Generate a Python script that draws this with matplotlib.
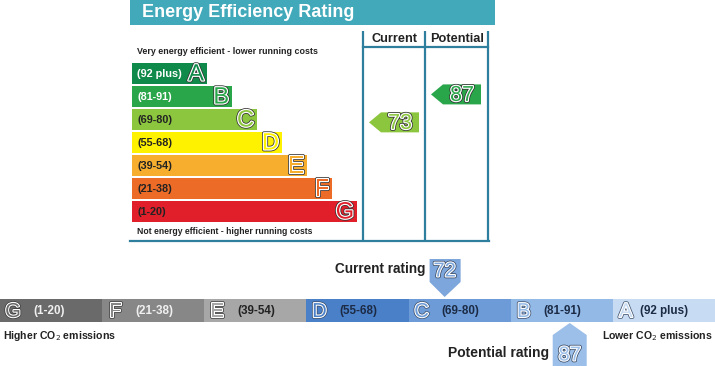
"""EPC energy efficiency and CO2 emissions rating graphic."""

import matplotlib

matplotlib.use("Agg")
import matplotlib.patheffects as pe
import matplotlib.pyplot as plt
from matplotlib.patches import Polygon, Rectangle

plt.rcParams["font.family"] = ["Liberation Sans", "DejaVu Sans"]

# data
bands = ["A", "B", "C", "D", "E", "F", "G"]
band_ranges = ["(92 plus)", "(81-91)", "(69-80)", "(55-68)", "(39-54)", "(21-38)", "(1-20)"]
band_low = [92, 81, 69, 55, 39, 21, 1]
band_high = [100, 91, 80, 68, 54, 38, 20]
eer_current = 73
eer_potential = 87
co2_current = 72
co2_potential = 87

eer_colors = ["#108a4a", "#2aa64a", "#8cc63e", "#fff200", "#f7ae2f", "#ec6c27", "#e01f2b"]
co2_colors = ["#c7dcf3", "#93b9e7", "#6c9bd7", "#4a80c8", "#a7a7a7", "#878787", "#6a6a6a"]

W, H = 715, 366
fig = plt.figure(figsize=(W / 100, H / 100), dpi=100)
ax = fig.add_axes([0, 0, 1, 1])
ax.set_xlim(0, W)
ax.set_ylim(H, 0)
ax.axis("off")

line_col = "#2e7f9e"
dark = "#333333"


def outline(edge=dark, lw=2.8):
    return [pe.Stroke(linewidth=lw, foreground=edge),
            pe.Stroke(linewidth=lw * 0.6, foreground="white"), pe.Normal()]


def band_index(value):
    for i, (lo, hi) in enumerate(zip(band_low, band_high)):
        if lo <= value <= hi:
            return i
    return len(bands) - 1


# ---- top: energy efficiency rating ----
ax.add_patch(Rectangle((130, 0), 365, 25, color="#41a9b9", lw=0))
ax.text(142, 12.5, "Energy Efficiency Rating", color="white", fontsize=13,
        fontweight="bold", va="center", ha="left")

row_top0, row_step, row_h = 63, 23, 21
lefts = 132
lengths = [75 + 25 * i for i in range(len(bands))]
tops = [row_top0 + row_step * i for i in range(len(bands))]
ax.barh([t + row_h / 2 for t in tops], lengths, height=row_h, left=lefts,
        color=eer_colors, lw=0)
for i, (b, r) in enumerate(zip(bands, band_ranges)):
    yc = tops[i] + row_h / 2
    txt_col = "white" if i in (0, 1) else "#222222"
    ax.text(137, yc + 0.5, r, fontsize=7.8, fontweight="bold", color=txt_col,
            va="center", ha="left")
    ax.text(lefts + lengths[i] - 3, yc + 1, b, fontsize=17, color=eer_colors[i],
            va="center", ha="right", path_effects=outline())

ax.text(137, 52, "Very energy efficient - lower running costs", fontsize=6.4,
        fontweight="bold", color="#222222", va="center", ha="left")
ax.text(137, 231, "Not energy efficient - higher running costs", fontsize=6.2,
        fontweight="bold", color="#222222", va="center", ha="left")

for x in (363, 425, 488):
    ax.plot([x, x], [31, 241], color=line_col, lw=1.6, solid_capstyle="butt")
ax.plot([130, 489], [241, 241], color=line_col, lw=1.6)
ax.plot([363, 488], [47, 47], color=line_col, lw=1.6)
ax.text(394, 38.5, "Current", fontsize=9.2, fontweight="bold", color="#222222",
        ha="center", va="center")
ax.text(457, 38.5, "Potential", fontsize=9.2, fontweight="bold", color="#222222",
        ha="center", va="center")


def eer_y(value):
    i = band_index(value)
    frac = (value - band_low[i]) / max(band_high[i] - band_low[i], 1)
    return tops[i] + row_h - frac * row_h


for value, x_body in ((eer_current, 381), (eer_potential, 443)):
    i = band_index(value)
    yc = eer_y(value)
    pts = [(x_body - 12, yc), (x_body, yc - 10), (x_body + 38, yc - 10),
           (x_body + 38, yc + 10), (x_body, yc + 10)]
    ax.add_patch(Polygon(pts, closed=True, color=eer_colors[i], lw=0))
    ax.text(x_body + 19, yc + 1, str(value), fontsize=15.5, color=eer_colors[i],
            ha="center", va="center", path_effects=outline())

# ---- bottom: CO2 emissions ----
seg_w = W / 7
bar_top, bar_h = 299, 23
order = list(range(len(bands)))[::-1]  # G..A from left
for k, i in enumerate(order):
    left = k * seg_w
    ax.barh(bar_top + bar_h / 2, seg_w, height=bar_h, left=left,
            color=co2_colors[i], lw=0)
    edge = "#3a3a3a" if i > 3 else "#3d4f6a"
    ax.text(left + 13, bar_top + bar_h / 2 + 1, bands[i], fontsize=14.5,
            color=co2_colors[i], ha="center", va="center",
            path_effects=outline(edge, 2.6))
    tc = "#f0f0f0" if i >= 5 else ("#1c2b45" if i <= 3 else "#222222")
    tx = left + (27 if i == 0 else 33)
    ax.text(tx, bar_top + bar_h / 2 + 0.5, band_ranges[i], fontsize=8.4,
            fontweight="bold", color=tc, ha="left", va="center")

ax.text(3, 336, "Higher CO$_2$ emissions", fontsize=7.6, fontweight="bold",
        color="#222222", ha="left", va="center")
ax.text(713, 336, "Lower CO$_2$ emissions", fontsize=7.6, fontweight="bold",
        color="#222222", ha="right", va="center")


def co2_x(value):
    i = band_index(value)
    k = order.index(i)
    frac = (value - band_low[i] + 1) / (band_high[i] - band_low[i] + 1)
    return k * seg_w + frac * seg_w


# current marker above the bar, pointing down
xc = co2_x(co2_current) + 2
pts = [(xc - 15, 259), (xc + 16, 259), (xc + 16, 282), (xc, 297), (xc - 15, 282)]
ax.add_patch(Polygon(pts, closed=True, color="#7da6dc", lw=0))
ax.text(xc, 271, str(co2_current), fontsize=14.5, color="#7da6dc", ha="center",
        va="center", path_effects=outline("#34455e", 2.6))
ax.text(xc - 19, 269, "Current rating", fontsize=9.8, fontweight="bold",
        color="#222222", ha="right", va="center")

# potential marker below the bar, pointing up
xp = co2_x(co2_potential) - 6
pts = [(xp, 323), (xp + 17, 335), (xp + 17, 366), (xp - 17, 366), (xp - 17, 335)]
ax.add_patch(Polygon(pts, closed=True, color="#9cbfea", lw=0))
ax.text(xp, 355, str(co2_potential), fontsize=14.5, color="#9cbfea", ha="center",
        va="center", path_effects=outline("#34455e", 2.6))
ax.text(xp - 21, 353, "Potential rating", fontsize=10, fontweight="bold",
        color="#222222", ha="right", va="center")

fig.savefig("out.png", dpi=100)
